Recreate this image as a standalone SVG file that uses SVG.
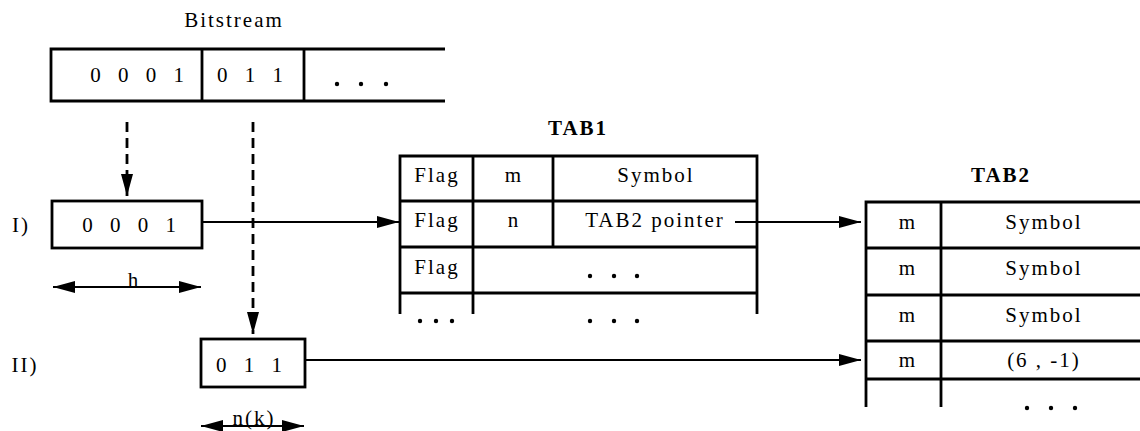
<svg xmlns="http://www.w3.org/2000/svg" width="1140" height="431" viewBox="0 0 1140 431">
<style>
text{font-family:"Liberation Serif","DejaVu Serif","Times New Roman",serif;font-size:21px;fill:#000;text-anchor:middle;letter-spacing:2px}
.b{font-weight:bold}
.dg{letter-spacing:6px}
.ln{stroke:#000;stroke-width:2.8;fill:none}
.c{stroke:#000;stroke-width:2.2;fill:none}
.d{stroke:#000;stroke-width:2.8;fill:none;stroke-dasharray:10,6}
.dot{fill:#000}
</style>
<defs>
<marker id="ah" viewBox="0 0 22 12" refX="22" refY="6" markerWidth="22" markerHeight="12" markerUnits="userSpaceOnUse" orient="auto-start-reverse">
<path d="M0,0 L22,6 L0,12 Z" fill="#000"/>
</marker>
</defs>
<rect width="1140" height="431" fill="#fff"/>
<g id="bitstream">
<text x="234" y="27">Bitstream</text>
<path class="ln" d="M445,49 H51 V101 H445 M202,49 V101 M304,49 V101"/>
<text class="dg" x="140" y="82">0 0 0 1</text>
<text class="dg" x="253" y="82">0 1 1</text>
<circle class="dot" cx="337" cy="84" r="2.2"/><circle class="dot" cx="361" cy="84" r="2.2"/><circle class="dot" cx="386" cy="84" r="2.2"/>
</g>
<g id="boxI">
<text x="21" y="232">I)</text>
<rect class="ln" x="52" y="201" width="150" height="47"/>
<text class="dg" x="132" y="232">0 0 0 1</text>
</g>
<g id="boxII">
<text x="25" y="372">II)</text>
<rect class="ln" x="201" y="339" width="104" height="48"/>
<text class="dg" x="252" y="372">0 1 1</text>
</g>
<g id="tab1">
<text class="b" x="578" y="135">TAB1</text>
<path class="ln" d="M400,314 V156 H757 V314 M400,201 H757 M400,247 H757 M400,293 H757 M473,156 V314 M553,156 V247"/>
<text x="437" y="182">Flag</text>
<text x="514" y="182">m</text>
<text x="656" y="182">Symbol</text>
<text x="437" y="227">Flag</text>
<text x="514" y="227">n</text>
<text x="655" y="227">TAB2 pointer</text>
<text x="437" y="274">Flag</text>
<circle class="dot" cx="590" cy="276" r="2.2"/><circle class="dot" cx="614" cy="276" r="2.2"/><circle class="dot" cx="637" cy="276" r="2.2"/>
<circle class="dot" cx="420" cy="321" r="2.2"/><circle class="dot" cx="436" cy="321" r="2.2"/><circle class="dot" cx="452" cy="321" r="2.2"/>
<circle class="dot" cx="590" cy="321" r="2.2"/><circle class="dot" cx="614" cy="321" r="2.2"/><circle class="dot" cx="637" cy="321" r="2.2"/>
</g>
<g id="tab2">
<text class="b" x="1001" y="182">TAB2</text>
<path class="ln" d="M866,407 V202 H1140 M866,248 H1140 M866,295 H1140 M866,341 H1140 M866,379 H1140 M941,202 V407"/>
<text x="908" y="229">m</text><text x="1044" y="229">Symbol</text>
<text x="908" y="275">m</text><text x="1044" y="275">Symbol</text>
<text x="908" y="322">m</text><text x="1044" y="322">Symbol</text>
<text x="908" y="367">m</text><text x="1044" y="367">(6 , -1)</text>
<circle class="dot" cx="1027" cy="408" r="2.2"/><circle class="dot" cx="1051" cy="408" r="2.2"/><circle class="dot" cx="1075" cy="408" r="2.2"/>
</g>
<g id="connectors">
<line class="d" x1="127" y1="122" x2="127" y2="196" marker-end="url(#ah)"/>
<line class="d" x1="253" y1="122" x2="253" y2="334" marker-end="url(#ah)"/>
<line class="c" x1="202" y1="222" x2="399" y2="222" marker-end="url(#ah)"/>
<line class="c" x1="735" y1="222" x2="861" y2="222" marker-end="url(#ah)"/>
<line class="c" x1="305" y1="360" x2="861" y2="360" marker-end="url(#ah)"/>
<line class="c" x1="53" y1="287" x2="201" y2="287" marker-start="url(#ah)" marker-end="url(#ah)"/>
<text x="134" y="287">h</text>
<line class="c" x1="201" y1="426" x2="304" y2="426" marker-start="url(#ah)" marker-end="url(#ah)"/>
<text x="254" y="425">n(k)</text>
</g>
</svg>
